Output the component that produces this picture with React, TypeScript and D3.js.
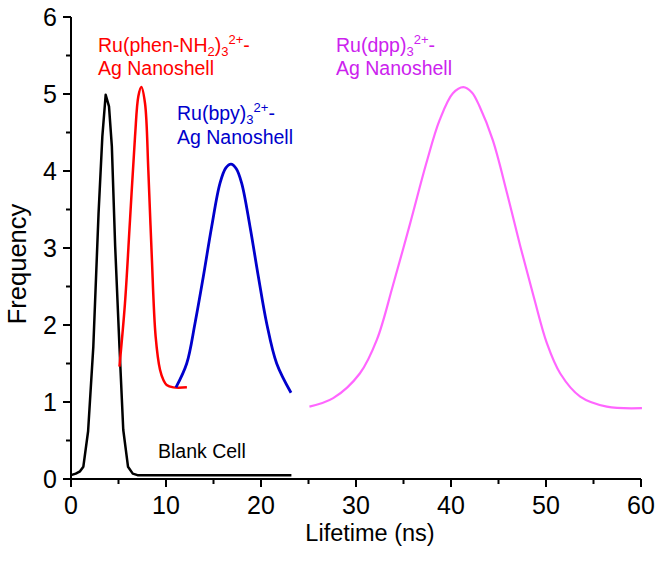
import React from "react";
import * as d3 from "d3";

const blankT = [0, 0.5, 0.95, 1.3, 1.8, 2.35, 2.9, 3.3, 3.65, 4.0, 4.3, 4.65, 5.1, 5.5, 6.0, 6.5, 7.0, 10, 15, 20, 23.2];
const blankV = [0.05, 0.07, 0.1, 0.16, 0.62, 1.72, 3.45, 4.45, 4.99, 4.84, 4.32, 3.02, 1.72, 0.64, 0.16, 0.07, 0.05, 0.05, 0.05, 0.05, 0.05];

const phenT = [5.1, 5.68, 6.21, 6.74, 7.09, 7.4, 7.79, 8.14, 8.49, 8.91, 9.37, 9.75, 10.07, 10.77, 12.2];
const phenV = [1.46, 2.28, 3.36, 4.45, 4.97, 5.09, 4.88, 4.01, 2.93, 1.85, 1.42, 1.28, 1.22, 1.19, 1.19];

const bpyT = [11.05, 12.18, 13.05, 13.93, 14.81, 15.68, 16.3, 16.84, 17.4, 17.97, 18.84, 19.72, 20.6, 21.65, 23.16];
const bpyV = [1.19, 1.5, 2.02, 2.63, 3.28, 3.84, 4.04, 4.09, 4.03, 3.84, 3.28, 2.63, 2.02, 1.5, 1.12];

const dppT = [25.1, 27.6, 30.4, 32.2, 33.9, 35.7, 37.4, 38.8, 40.2, 41.3, 42.2, 43.0, 44.4, 45.9, 47.3, 48.7, 50.1, 51.5, 53.6, 56.4, 60.1];
const dppV = [0.94, 1.05, 1.37, 1.81, 2.52, 3.32, 4.1, 4.66, 5.01, 5.09, 5.02, 4.84, 4.4, 3.71, 3.02, 2.37, 1.76, 1.37, 1.07, 0.94, 0.92];

const xTicks = [0, 10, 20, 30, 40, 50, 60];
const xMinor = [5, 15, 25, 35, 45, 55];
const yTicks = [0, 1, 2, 3, 4, 5, 6];
const yMinor = [0.5, 1.5, 2.5, 3.5, 4.5, 5.5];

const FONT = "'Liberation Sans', Arial, Helvetica, sans-serif";

export default function App() {
  const x = d3.scaleLinear().domain([0, 60]).range([71, 641]);
  const y = d3.scaleLinear().domain([0, 6]).range([479, 17]);

  const mk = (ts: number[], vs: number[], curve: any) =>
    d3
      .line<number>()
      .x((_, i) => x(ts[i]))
      .y((_, i) => y(vs[i]))
      .curve(curve)(ts) as string;

  const smooth = d3.curveCatmullRom.alpha(0.5);
  const series = [
    { d: mk(blankT, blankV, d3.curveLinear), color: "#000000", w: 2.5 },
    { d: mk(phenT, phenV, smooth), color: "#ff0000", w: 2.5 },
    { d: mk(bpyT, bpyV, smooth), color: "#0000cc", w: 2.8 },
    { d: mk(dppT, dppV, smooth), color: "#ff66ff", w: 2.2 },
  ];

  const annSize = 19.5;
  const sub = { fontSize: 13 };
  const tickSize = 25;

  return (
    <svg
      width={662}
      height={570}
      style={{ position: "absolute", left: 0, top: 0, background: "#fff" }}
      fontFamily={FONT}
    >
      <rect x={0} y={0} width={662} height={570} fill="#fff" />
      {series.map((s, i) => (
        <path key={i} d={s.d} fill="none" stroke={s.color} strokeWidth={s.w} strokeLinejoin="round" />
      ))}

      {/* axes */}
      <line x1={x(0)} x2={x(60)} y1={y(0)} y2={y(0)} stroke="#000" strokeWidth={2} />
      <line x1={x(0)} x2={x(0)} y1={y(0) + 1} y2={y(6)} stroke="#000" strokeWidth={2} />
      {xTicks.map((t) => (
        <g key={"xt" + t}>
          <line x1={x(t)} x2={x(t)} y1={y(0)} y2={y(0) + 8} stroke="#000" strokeWidth={2} />
          <text x={x(t)} y={514} fontSize={tickSize} textAnchor="middle" fill="#000">
            {t}
          </text>
        </g>
      ))}
      {xMinor.map((t) => (
        <line key={"xm" + t} x1={x(t)} x2={x(t)} y1={y(0)} y2={y(0) + 5} stroke="#000" strokeWidth={2} />
      ))}
      {yTicks.map((t) => (
        <g key={"yt" + t}>
          <line x1={x(0) - 8} x2={x(0)} y1={y(t)} y2={y(t)} stroke="#000" strokeWidth={2} />
          <text x={57} y={y(t) + 9} fontSize={tickSize} textAnchor="end" fill="#000">
            {t}
          </text>
        </g>
      ))}
      {yMinor.map((t) => (
        <line key={"ym" + t} x1={x(0) - 5} x2={x(0)} y1={y(t)} y2={y(t)} stroke="#000" strokeWidth={2} />
      ))}

      <text x={370} y={541} fontSize={23.5} textAnchor="middle" fill="#000">
        Lifetime (ns)
      </text>
      <text
        transform={`translate(26,264) rotate(-90)`}
        fontSize={25.5}
        textAnchor="middle"
        fill="#000"
      >
        Frequency
      </text>

      {/* annotations */}
      <text x={98} y={52} fontSize={annSize} fill="#ff0000">
        Ru(phen-NH<tspan dy={4} {...sub}>2</tspan>
        <tspan dy={-4}>)</tspan>
        <tspan dy={4} {...sub}>3</tspan>
        <tspan dy={-12} {...sub}>2+</tspan>
        <tspan dy={8}>-</tspan>
      </text>
      <text x={98} y={75} fontSize={annSize} fill="#ff0000">
        Ag Nanoshell
      </text>

      <text x={177} y={120} fontSize={annSize} fill="#0000cc">
        Ru(bpy)<tspan dy={4} {...sub}>3</tspan>
        <tspan dy={-12} {...sub}>2+</tspan>
        <tspan dy={8}>-</tspan>
      </text>
      <text x={177} y={144} fontSize={annSize} fill="#0000cc">
        Ag Nanoshell
      </text>

      <text x={336} y={52} fontSize={annSize} fill="#cc22ee">
        Ru(dpp)<tspan dy={4} {...sub}>3</tspan>
        <tspan dy={-12} {...sub}>2+</tspan>
        <tspan dy={8}>-</tspan>
      </text>
      <text x={336} y={75} fontSize={annSize} fill="#cc22ee">
        Ag Nanoshell
      </text>

      <text x={158} y={458} fontSize={annSize} fill="#000">
        Blank Cell
      </text>
    </svg>
  );
}
